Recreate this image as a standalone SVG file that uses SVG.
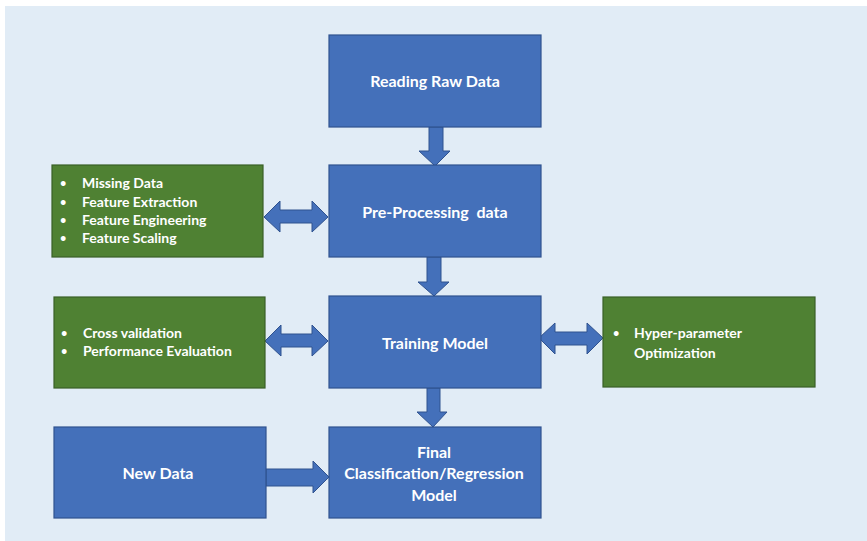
<svg xmlns="http://www.w3.org/2000/svg" width="867" height="541" viewBox="0 0 867 541">
<style>
.bg{fill:#E1ECF6}
.blue{fill:#4470BA;stroke:#2F528F;stroke-width:1.2}
.green{fill:#4F8133;stroke:#3A6027;stroke-width:1.2}
.arr{fill:#4470BA;stroke:#2F528F;stroke-width:1}
text{font-family:Lato,"Open Sans","Liberation Sans",sans-serif;font-weight:bold;fill:#FFFFFF}
.t{font-size:16px;text-anchor:middle}
.b{font-size:14px}
.d{font-size:11px}
</style>
<rect x="0" y="0" width="867" height="541" fill="#FFFFFF"/>
<rect class="bg" x="5" y="6" width="862" height="535"/>
<g id="connectors">
<path class="arr" d="M429,127 H443 V151 H450 L435,166 L419,151 H429 Z"/>
<path class="arr" d="M427,257 H441 V282 H449 L434,296 L418,282 H427 Z"/>
<path class="arr" d="M427,388 H440 V412 H447 L433,427 L417,412 H427 Z"/>
<path class="arr" d="M266,469 H313 V461 L329,477 L313,493 V486 H266 Z"/>
<path class="arr" d="M264,217 L280,201 V210 H312 V201 L328,217 L312,232 V223 H280 V232 Z"/>
<path class="arr" d="M265,341 L281,325 V334 H312 V325 L328,341 L312,356 V347 H281 V356 Z"/>
<path class="arr" d="M539,338 L555,323 V332 H587 V323 L603,338 L587,354 V345 H555 V354 Z"/>
</g>
<g id="reading">
<rect class="blue" x="329" y="35" width="212" height="92"/>
<text class="t" x="435" y="87">Reading Raw Data</text>
</g>
<g id="preprocessing">
<rect class="blue" x="329" y="165" width="212" height="92"/>
<text class="t" x="435" y="218" xml:space="preserve">Pre-Processing  data</text>
</g>
<g id="training">
<rect class="blue" x="329" y="296" width="212" height="92"/>
<text class="t" x="435" y="349">Training Model</text>
</g>
<g id="final">
<rect class="blue" x="329" y="427" width="212" height="91"/>
<text class="t" x="434" y="458">Final</text>
<text class="t" x="434" y="479">Classification/Regression</text>
<text class="t" x="434" y="501">Model</text>
</g>
<g id="newdata">
<rect class="blue" x="54" y="427" width="212" height="91"/>
<text class="t" x="158" y="479">New Data</text>
</g>
<g id="preprocessing-steps">
<rect class="green" x="52" y="165" width="211" height="92"/>
<text class="d" x="60" y="187">•</text><text class="b" x="82" y="188">Missing Data</text>
<text class="d" x="60" y="206">•</text><text class="b" x="82" y="207">Feature Extraction</text>
<text class="d" x="60" y="224">•</text><text class="b" x="82" y="225">Feature Engineering</text>
<text class="d" x="60" y="242">•</text><text class="b" x="82" y="243">Feature Scaling</text>
</g>
<g id="validation">
<rect class="green" x="54" y="297" width="211" height="91"/>
<text class="d" x="61" y="337">•</text><text class="b" x="83" y="338">Cross validation</text>
<text class="d" x="61" y="355">•</text><text class="b" x="83" y="356">Performance Evaluation</text>
</g>
<g id="hyperparameter">
<rect class="green" x="603" y="297" width="212" height="90"/>
<text class="d" x="613" y="337">•</text><text class="b" x="634" y="338">Hyper-parameter</text>
<text class="b" x="634" y="358">Optimization</text>
</g>
</svg>
